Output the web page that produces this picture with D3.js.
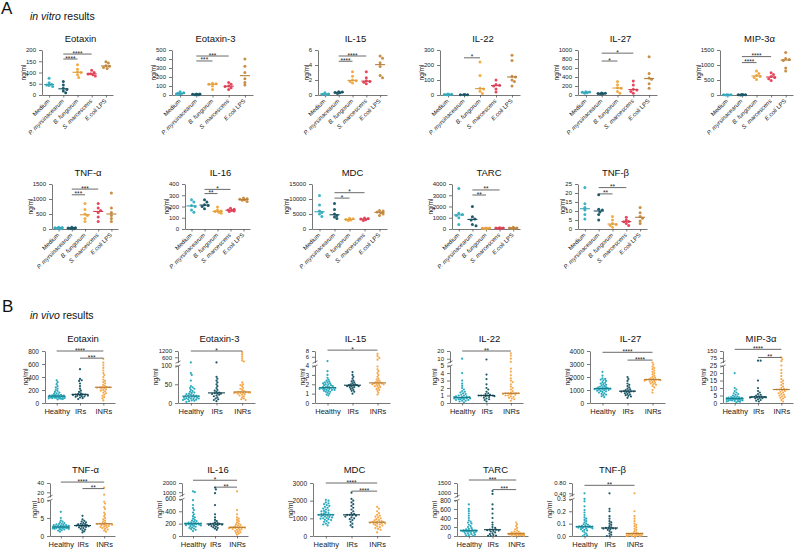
<!DOCTYPE html>
<html>
<head>
<meta charset="utf-8">
<script src="https://cdn.jsdelivr.net/npm/d3@7"></script>
<style>
  body { margin: 0; background: #fff; }
  svg { font-family: "Liberation Sans", Arial, sans-serif; }
</style>
</head>
<body>
<svg id="chart" width="796" height="550"></svg>
<script>
// ---------- data ----------
const vitroGroups = ["Medium", "P. myrsinacearum", "B. fungorum", "S. marcescens", "E.coli LPS"];
const vivoGroups = ["Healthy", "IRs", "INRs"];

const vitroTitles = ["Eotaxin", "Eotaxin-3", "IL-15", "IL-22", "IL-27", "MIP-3α",
                     "TNF-α", "IL-16", "MDC", "TARC", "TNF-β"];
const vivoTitles = vitroTitles;

// in vitro: one array per stimulus (Medium, P.myr, B.fung, S.marc, E.coli LPS)
const vitroEotaxin = [[38,42,45,48,55,75],[10,18,25,30,45,60],[78,90,100,102,115,135],[85,90,93,95,100,110],[118,122,128,130,142,148]];
const vitroEotaxin3 = [[5,10,15,20,25,35],[2,4,6,8,10,12],[60,100,120,125,130],[60,80,95,100,120,140],[110,140,180,250,320,400]];
const vitroIL15 = [[0.05,0.1,0.15,0.3],[0.2,0.3,0.35,0.4,0.45],[1.6,1.8,1.9,2.0,2.5,3.1],[1.5,1.7,1.8,1.9,2.3,3.1],[2.3,2.6,3.8,4.3,4.9,5.2]];
const vitroIL22 = [[1,2,3,5,6],[1,1.5,2,3],[10,25,40,45,130,220],[20,40,60,65,70,100],[60,90,100,120,125,230,265]];
const vitroIL27 = [[40,50,60,65,70],[20,30,35,40,45],[40,80,150,160,230,300],[40,80,110,130,220,310],[150,250,350,380,480,850]];
const vitroMIP3a = [[2,4,6,8,10],[3,6,9,12,15],[520,580,620,650,720,800],[480,540,580,620,680,740],[800,900,1150,1180,1220,1420]];
const vitroTNFa = [[10,20,30,40,50,60],[10,20,25,35,45,60],[250,350,450,500,650,850],[250,400,550,620,700,850],[250,350,450,550,700,1200]];
const vitroIL16 = [[150,170,200,210,240,260],[180,200,210,215,240,260],[140,150,155,160,170,195],[155,160,165,170,175,185],[245,255,260,265,270,275]];
const vitroMDC = [[4200,5000,5500,6000,8000,11200],[3500,4000,4500,5000,6500,8500],[2800,3000,3200,3400,3600],[2800,3100,3300,3500,3700],[4500,5000,5400,5700,6000,6200]];
const vitroTARC = [[400,1000,1200,1300,1400,3600],[300,400,800,900,1100,2000],[30,50,70,90,100],[40,60,80,100,120],[40,60,80,100,150]];
const vitroTNFb = [[5.5,8,10.5,12,14,23],[5,8,9.5,10.5,11,19],[1,2,2.5,3,5,7],[2,3,4,4.2,5,6.5],[3,4.5,6,7,9,12]];

const vitroTicks = [[0,50,100,150,200],[0,100,200,300,400,500],[0,2,4,6],[0,100,200,300],
  [0,200,400,600,800,1000],[0,500,1000,1500],[0,500,1000,1500],[0,100,200,300,400],
  [0,5000,10000,15000],[0,1000,2000,3000,4000],[0,5,10,15,20,25]];

// significance bars: [from group, to group, value, label]
const vitroSig = [
  [[1,2,160,"****"],[1,3,182,"****"]],
  [[1,2,378,"***"],[1,3,433,"***"]],
  [[1,2,4.5,"****"],[1,3,5.2,"****"]],
  [[1,2,248,"*"]],
  [[1,2,755,"*"],[1,3,930,"*"]],
  [[1,2,1080,"****"],[1,3,1280,"****"]],
  [[1,2,1140,"***"],[1,3,1330,"***"]],
  [[1,2,315,"**"],[1,3,352,"*"]],
  [[1,2,10300,"*"],[1,3,12100,"*"]],
  [[1,2,3020,"**"],[1,3,3470,"**"]],
  [[1,2,19.5,"**"],[1,3,23,"**"]]
];

// in vivo: Healthy, IRs, INRs
const vivoEotaxin = [
  [55,60,65,70,72,75,78,80,82,85,88,90,92,95,96,98,100,100,102,105,108,110,112,115,118,120,125,130,140,150,160,170,185,200,220,240,260,290,320,350],
  [60,75,85,95,100,105,110,115,120,125,128,130,135,140,150,170,190,220,260,300,340,350,370,520],
  [40,70,90,110,130,150,160,180,190,200,210,220,230,235,240,240,245,250,260,280,300,320,340,360,400,430,460,500,540,580,620,680]];
const vivoEotaxin3 = [
  [3,5,6,7,8,9,10,10,11,12,12,13,14,15,15,16,17,18,18,19,20,21,22,24,25,27,28,30,32,35,38,40,42,45,60,75,80,115],
  [5,8,10,12,15,18,20,22,24,25,25,26,28,30,33,35,40,45,50,55,60,65,70,115],
  [8,10,12,15,18,20,22,24,25,26,27,27,28,28,28,29,30,30,32,35,38,40,45,48,50,55,200,300,500,700,900,1100]];
const vivoIL15 = [
  [0.8,0.9,1.0,1.1,1.2,1.2,1.3,1.3,1.4,1.4,1.4,1.5,1.5,1.5,1.5,1.6,1.6,1.6,1.6,1.6,1.7,1.7,1.7,1.8,1.8,1.9,1.9,2.0,2.0,2.1,2.1,2.2,2.2,2.3,2.4,2.5,2.7,3.0,3.4,4.5],
  [1.0,1.2,1.3,1.4,1.5,1.6,1.7,1.7,1.8,1.8,1.8,1.9,1.9,1.9,2.0,2.0,2.1,2.2,2.3,2.4,2.6,2.8,3.0,3.3],
  [0.9,1.1,1.3,1.4,1.5,1.6,1.7,1.8,1.8,1.9,2.0,2.0,2.0,2.1,2.1,2.1,2.2,2.2,2.3,2.4,2.5,2.6,2.8,3.0,3.2,3.4,3.6,3.9,5.0,5.6,6.2,7.0]];
const vivoIL22 = [
  [0.1,0.2,0.3,0.3,0.4,0.4,0.5,0.5,0.5,0.6,0.6,0.6,0.6,0.7,0.7,0.7,0.7,0.7,0.7,0.7,0.8,0.8,0.8,0.9,0.9,1.0,1.0,1.1,1.2,1.3,1.4,1.5,1.6,1.8,2.0,2.3,2.6,3.0,4.0,10],
  [0.2,0.4,0.5,0.6,0.7,0.8,0.9,0.9,1.0,1.0,1.0,1.0,1.0,1.1,1.2,1.3,1.5,1.8,2.0,2.5,3.2,3.8,9],
  [0.3,0.5,0.6,0.7,0.8,0.9,1.0,1.0,1.1,1.2,1.2,1.2,1.3,1.3,1.3,1.3,1.3,1.4,1.6,1.8,2.0,2.2,2.5,2.8,3.0,3.3,3.7,4.2,4.6,6,10,14,17]];
const vivoIL27 = [
  [450,520,600,650,700,750,800,850,900,920,950,980,1000,1020,1050,1060,1080,1100,1100,1100,1120,1150,1180,1200,1220,1250,1300,1350,1400,1450,1500,1550,1600,1700,1750,1800,1850,1900,2100,2400],
  [400,500,550,600,650,700,750,800,850,880,900,900,920,950,1000,1050,1100,1200,1300,1400,1500,1700,1850,2000],
  [800,1000,1200,1300,1400,1450,1500,1550,1600,1650,1700,1720,1750,1780,1800,1800,1800,1820,1850,1900,1950,2000,2100,2200,2300,2400,2500,2600,2700,2800,2950,3100]];
const vivoMIP3a = [
  [0.5,0.8,1.0,1.2,1.4,1.5,1.7,1.8,2.0,2.0,2.2,2.3,2.4,2.5,2.6,2.7,2.8,2.9,3.0,3.0,3.0,3.1,3.2,3.3,3.4,3.5,3.6,3.8,4.0,4.2,4.5,5.0,5.5,6.0,6.5,7.0,8.0,9.0,10,20],
  [1.0,1.5,2.0,2.5,3.0,3.2,3.4,3.6,3.8,3.9,4.0,4.0,4.1,4.2,4.5,5.0,5.5,6.0,7.0,8.0,10,15,45,45],
  [1.0,2.0,3.0,3.5,4.0,4.5,5.0,5.5,6.0,6.5,7.0,7.5,8.0,8.5,9.0,9.0,9.0,9.5,10,11,12,13,14,15,16,18,20,22,25,40,60,80]];
const vivoTNFa = [
  [1.2,1.5,1.6,1.8,1.9,2.0,2.0,2.1,2.1,2.2,2.2,2.3,2.3,2.3,2.4,2.4,2.4,2.5,2.5,2.5,2.5,2.6,2.6,2.7,2.7,2.8,2.8,2.9,3.0,3.0,3.1,3.2,3.3,3.4,3.6,3.8,4.0,4.3,5.0,6.7],
  [1.0,1.3,1.6,1.8,2.0,2.2,2.4,2.5,2.6,2.7,2.8,2.9,2.9,3.0,3.1,3.2,3.3,3.4,3.6,3.8,4.0,4.2,4.6,5.6],
  [1.2,1.5,1.8,2.0,2.2,2.4,2.5,2.6,2.8,2.9,3.0,3.1,3.2,3.3,3.3,3.4,3.4,3.5,3.7,4.0,4.3,4.6,5.0,5.5,6.0,6.5,7.5,8.0,9.0,9.5,15,30]];
const vivoIL16 = [
  [80,100,110,120,130,140,150,160,165,170,175,180,185,190,190,195,195,200,200,200,200,205,210,215,220,230,240,250,260,280,300,320,350,380,420,450,500,580,1000,1100],
  [100,120,130,140,150,160,170,175,180,185,190,195,195,200,210,220,240,260,300,350,500,900,1300,1500],
  [20,40,50,60,70,80,90,100,110,115,120,125,130,135,138,140,140,145,150,160,170,180,190,200,220,240,260,280,300,350,420,1100]];
const vivoMDC = [
  [600,650,700,750,800,850,900,920,950,980,1000,1020,1050,1080,1100,1120,1150,1180,1200,1200,1200,1220,1250,1280,1300,1350,1400,1420,1450,1500,1550,1600,1650,1700,1750,1800,1850,1900,2000,2050],
  [500,600,700,800,900,950,1000,1050,1100,1150,1180,1200,1200,1250,1300,1400,1500,1600,1700,1800,1900,2000,2100,2450],
  [200,350,400,450,500,550,600,620,650,680,700,720,740,750,760,780,780,800,820,850,880,900,950,1000,1050,1100,1150,1200,1300,1400,1550,1650]];
const vivoTARC = [
  [5,10,20,30,40,50,60,70,80,90,95,100,105,110,112,115,118,120,120,120,120,125,130,140,150,160,180,200,220,250,280,300,320,350,400,450,500,550,600,700],
  [0,5,10,20,40,60,80,100,110,120,130,140,140,150,180,200,250,300,400,500,600,700,950,1100],
  [0,5,10,15,20,25,30,35,38,40,42,45,46,48,49,50,50,52,55,58,60,65,70,80,90,100,120,150,180,220,260,300]];
const vivoTNFb = [
  [0,0.005,0.01,0.02,0.03,0.04,0.045,0.05,0.055,0.06,0.062,0.065,0.068,0.07,0.072,0.073,0.074,0.075,0.075,0.075,0.076,0.078,0.08,0.082,0.085,0.09,0.095,0.1,0.11,0.12,0.13,0.14,0.15,0.17,0.19,0.21,0.24,0.28,0.3,0.4],
  [0,0,0.01,0.02,0.03,0.04,0.05,0.055,0.06,0.06,0.062,0.065,0.065,0.07,0.08,0.09,0.1,0.11,0.12,0.14,0.16,0.2,0.22,0.4],
  [0,0,0,0,0,0.005,0.005,0.01,0.01,0.012,0.015,0.016,0.018,0.019,0.02,0.02,0.02,0.022,0.025,0.03,0.04,0.05,0.06,0.07,0.08,0.09,0.1,0.12,0.14,0.16,0.2,0.4]];

// lower ticks (and upper ticks when the axis is broken)
const vivoLowTicks = [[0,200,400,600,800],[0,50,100],[0,1,2,3,4],[0,1,2,3,4,5],[0,1000,2000,3000,4000],
  [0,5,10,15,20,25],[0,5,10],[0,200,400,600],[0,1000,2000,3000],[0,200,400,600,800],[0,0.1,0.2,0.3]];
const vivoHighTicks = [null,[600,1200],[6,8],[10,20],null,[75,150],[20,40],[1000,2000],null,[1000,1500],[0.4,0.8]];

const vivoSig = [
  [[0,2,800,"****"],[1,2,690,"***"]],
  [[0,2,1200,"*"]],
  [[0,2,8.3,"*"]],
  [[0,2,20,"**"]],
  [[0,2,3900,"****"],[1,2,3300,"****"]],
  [[0,2,168,"****"],[1,2,80,"**"]],
  [[0,2,42,"****"],[1,2,28,"**"]],
  [[0,2,2300,"*"],[1,2,1550,"**"]],
  [[0,2,3000,"****"],[1,2,2540,"****"]],
  [[0,2,1650,"***"],[1,2,1170,"***"]],
  [[0,2,0.71,"**"]]
];

const vitroData = [vitroEotaxin, vitroEotaxin3, vitroIL15, vitroIL22, vitroIL27, vitroMIP3a,
                   vitroTNFa, vitroIL16, vitroMDC, vitroTARC, vitroTNFb];
const vivoData = [vivoEotaxin, vivoEotaxin3, vivoIL15, vivoIL22, vivoIL27, vivoMIP3a,
                  vivoTNFa, vivoIL16, vivoMDC, vivoTARC, vivoTNFb];

// ---------- layout / style ----------
const vitroColors = ["#3bb4c6", "#1f5c6c", "#f3ac45", "#e8475e", "#c98f45"];
const vivoColors = ["#2aaabd", "#1d5a6a", "#f6a94a"];

const vitroRows = [
  {titleY: 42, top: 50, bottom: 95, cols: [[42,113],[172,253],[318,387],[440,520],[578,657],[720,793]]},
  {titleY: 176, top: 184, bottom: 229, cols: [[52,118],[185,250],[312,387],[452,520],[578,647]]}
];
const vivoRows = [
  {titleY: 342, top: 351, bottom: 403, cols: [[45,115],[178,255],[315,390],[450,523],[590,665],[723,793]]},
  {titleY: 473, top: 483, bottom: 536, cols: [[50,115],[182,248],[313,390],[457,528],[572,647]]}
];
const vivoFrac = [0, 0.72, 0.72, 0.72, 0, 0.72, 0.68, 0.7, 0, 0.68, 0.7];

const svg = d3.select("#chart");
const AXIS = "#555";

// simple beeswarm: horizontal offsets so dots don't overlap
function swarm(ys, r, maxHalf) {
  const order = d3.range(ys.length).sort((a, b) => d3.ascending(ys[a], ys[b]));
  const placed = [];
  const xs = new Array(ys.length).fill(0);
  const minD = 2 * r * 0.9;
  for (const i of order) {
    let best = 0, bestScore = -1;
    for (let k = 0; k < 80; k++) {
      const off = (k % 2 ? 1 : -1) * Math.ceil(k / 2) * r * 0.8;
      if (Math.abs(off) > maxHalf) break;
      let dmin = Infinity;
      for (const p of placed) {
        if (Math.abs(p[1] - ys[i]) < minD) dmin = Math.min(dmin, Math.hypot(p[0] - off, p[1] - ys[i]));
      }
      if (dmin >= minD) { best = off; break; }
      if (dmin > bestScore) { bestScore = dmin; best = off; }
    }
    xs[i] = best;
    placed.push([best, ys[i]]);
  }
  return xs;
}

function makeY(lowTicks, highTicks, top, bottom, frac) {
  const lowMax = lowTicks[lowTicks.length - 1];
  if (!highTicks) {
    const s = d3.scaleLinear().domain([0, lowMax]).range([bottom, top]);
    return {f: s, lo: s, hi: null, yb: null};
  }
  const yb = bottom - (bottom - top) * frac;
  const lo = d3.scaleLinear().domain([0, lowMax]).range([bottom, yb]);
  const hi = d3.scaleLinear().domain([lowMax, highTicks[highTicks.length - 1]]).range([yb - 3, top]);
  return {f: v => v <= lowMax ? lo(v) : hi(v), lo, hi, yb};
}

function styleAxis(sel, fs) {
  sel.attr("font-size", fs).attr("font-family", "Liberation Sans, Arial, sans-serif");
  sel.selectAll("path, line").attr("stroke", AXIS).attr("stroke-width", 0.8);
  sel.selectAll("text").attr("fill", "#222");
}

function drawPanel(p) {
  const g = svg.append("g");
  const x = d3.scalePoint().domain(p.groups).range([p.x0, p.x1]).padding(0.5);
  const y = makeY(p.lowTicks, p.highTicks, p.top, p.bottom, p.frac);
  const fmtLo = d3.format(p.fmtLo), fmtHi = d3.format(p.fmtHi);

  // y axis (one or two segments)
  const ay = g.append("g").attr("transform", `translate(${p.x0},0)`)
    .call(d3.axisLeft(y.lo).tickValues(p.lowTicks).tickFormat(fmtLo).tickSize(3).tickSizeOuter(0));
  styleAxis(ay, p.tickFs);
  let labels = p.lowTicks.map(fmtLo);
  if (y.hi) {
    const ah = g.append("g").attr("transform", `translate(${p.x0},0)`)
      .call(d3.axisLeft(y.hi).tickValues(p.highTicks).tickFormat(fmtHi).tickSize(3).tickSizeOuter(0));
    styleAxis(ah, p.tickFs - 0.5);
    labels = labels.concat(p.highTicks.map(fmtHi));
    [y.yb + 0.5, y.yb - 3.5].forEach(yy => {
      g.append("line").attr("x1", p.x0 - 2.5).attr("x2", p.x0 + 2.5)
        .attr("y1", yy + 1.2).attr("y2", yy - 1.2)
        .attr("stroke", AXIS).attr("stroke-width", 0.8);
    });
  }

  // x axis
  const ax = g.append("g").attr("transform", `translate(0,${p.bottom})`)
    .call(d3.axisBottom(x).tickSize(2.5).tickSizeOuter(0));
  styleAxis(ax, p.catFs);
  if (p.rotate) {
    ax.selectAll("text")
      .attr("x", 0).attr("y", 0).attr("dy", "0.35em")
      .attr("text-anchor", "end")
      .attr("transform", "translate(-1,5) rotate(-45)")
      .each(function (d) {
        const t = d3.select(this);
        t.text(null);
        if (d === "Medium") { t.text(d); return; }
        if (d.endsWith(" LPS")) {
          t.append("tspan").attr("font-style", "italic").text(d.replace(" LPS", ""));
          t.append("tspan").text(" LPS");
        } else {
          t.append("tspan").attr("font-style", "italic").text(d);
        }
      });
  }

  // y label
  const maxLen = d3.max(labels, s => s.length);
  g.append("text")
    .attr("transform", `translate(${p.x0 - 6 - maxLen * p.tickFs * 0.556},${(p.top + p.bottom) / 2}) rotate(-90)`)
    .attr("text-anchor", "middle").attr("font-size", p.tickFs + 0.5).attr("fill", "#222")
    .text("ng/ml");

  // title
  g.append("text").attr("x", (p.x0 + p.x1) / 2 + 3).attr("y", p.titleY)
    .attr("text-anchor", "middle").attr("font-size", 9.5).attr("fill", "#111")
    .text(p.title);

  // dots + medians
  p.values.forEach((vals, gi) => {
    const cx = x(p.groups[gi]);
    const ys = vals.map(v => y.f(v));
    const xs = swarm(ys, p.r, p.spread);
    g.append("g").selectAll("circle")
      .data(vals.map((v, i) => ({v, dx: xs[i]})))
      .join("circle")
      .attr("cx", d => cx + d.dx)
      .attr("cy", d => y.f(d.v))
      .attr("r", p.r)
      .attr("fill", p.colors[gi]);
    const m = d3.median(vals);
    g.append("line")
      .attr("x1", cx - p.medW / 2).attr("x2", cx + p.medW / 2)
      .attr("y1", y.f(m)).attr("y2", y.f(m))
      .attr("stroke", d3.color(p.colors[gi]).darker(p.medDark))
      .attr("stroke-width", 1.1);
  });

  // significance bars
  p.sig.forEach(([a, b, v, lab]) => {
    const yy = y.f(v);
    const xa = x(p.groups[a]), xb = x(p.groups[b]);
    g.append("line").attr("x1", xa).attr("x2", xb).attr("y1", yy).attr("y2", yy)
      .attr("stroke", "#444").attr("stroke-width", 0.8);
    g.append("text").attr("x", (xa + xb) / 2).attr("y", yy + 1.5)
      .attr("text-anchor", "middle").attr("font-size", 6.5).attr("fill", "#222")
      .text(lab);
  });
}

// ---------- section headings ----------
svg.append("text").attr("x", 1).attr("y", 14).attr("font-size", 17).attr("fill", "#111").text("A");
const hA = svg.append("text").attr("x", 30).attr("y", 20).attr("font-size", 10.5).attr("fill", "#111");
hA.append("tspan").attr("font-style", "italic").text("in vitro");
hA.append("tspan").text(" results");

svg.append("text").attr("x", 2).attr("y", 312).attr("font-size", 17).attr("fill", "#111").text("B");
const hB = svg.append("text").attr("x", 30).attr("y", 319).attr("font-size", 10.5).attr("fill", "#111");
hB.append("tspan").attr("font-style", "italic").text("in vivo");
hB.append("tspan").text(" results");

// ---------- panels ----------
vitroData.forEach((vals, i) => {
  const row = vitroRows[i < 6 ? 0 : 1];
  const col = row.cols[i < 6 ? i : i - 6];
  drawPanel({
    title: vitroTitles[i], groups: vitroGroups, colors: vitroColors, values: vals,
    lowTicks: vitroTicks[i], highTicks: null, frac: 0, fmtLo: "d", fmtHi: "d",
    sig: vitroSig[i], x0: col[0], x1: col[1], top: row.top, bottom: row.bottom, titleY: row.titleY,
    rotate: true, r: 1.5, spread: 4.5, medW: 10, medDark: 0.3, tickFs: 6, catFs: 6
  });
});

vivoData.forEach((vals, i) => {
  const row = vivoRows[i < 6 ? 0 : 1];
  const col = row.cols[i < 6 ? i : i - 6];
  const isTNFb = vivoTitles[i] === "TNF-β";
  drawPanel({
    title: vivoTitles[i], groups: vivoGroups, colors: vivoColors, values: vals,
    lowTicks: vivoLowTicks[i], highTicks: vivoHighTicks[i], frac: vivoFrac[i],
    fmtLo: isTNFb ? ".1f" : "d", fmtHi: isTNFb ? ".2f" : "d",
    sig: vivoSig[i], x0: col[0], x1: col[1], top: row.top, bottom: row.bottom, titleY: row.titleY,
    rotate: false, r: 1.1, spread: 8.5, medW: 17, medDark: 0.9, tickFs: 6.5, catFs: 7.5
  });
});
</script>
</body>
</html>
